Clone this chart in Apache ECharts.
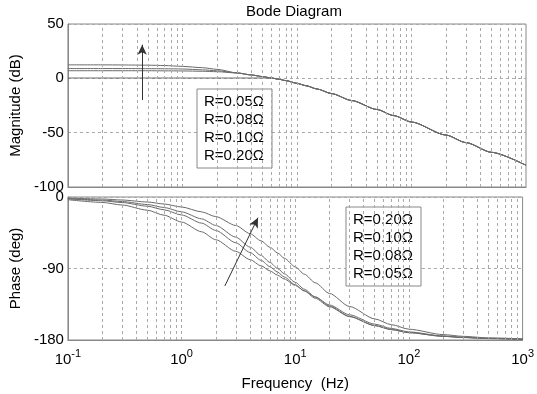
<!DOCTYPE html>
<html>
<head>
<meta charset="utf-8">
<script src="https://cdn.jsdelivr.net/npm/echarts@6/dist/echarts.min.js"></script>
<style>html,body{margin:0;padding:0;background:#fff}#c{width:537px;height:394px}</style>
</head>
<body>
<div id="c"></div>
<script>
// Frequencies (Hz)
const freq = [0.1, 0.2, 0.3, 0.5, 0.7, 1, 1.5, 2, 3, 4, 5, 6, 7, 8, 10, 12, 15, 20, 30, 50, 70, 100, 200, 300, 500, 1000];

// Magnitude (dB)
const magR005 = [12.4, 12.4, 12.3, 12.1, 11.8, 11.0, 9.8, 8.3, 5.0, 3.1, 1.6, 0.3, -0.9, -2.1, -4.6, -6.8, -9.8, -14.0, -20.4, -28.7, -34.3, -40.2, -52.2, -59.2, -68.1, -80.0];
const magR008 = [9.0, 9.0, 9.0, 8.9, 8.8, 8.6, 7.8, 7.0, 5.0, 3.1, 1.6, 0.3, -0.9, -2.1, -4.6, -6.8, -9.8, -14.0, -20.4, -28.7, -34.3, -40.2, -52.2, -59.2, -68.1, -80.0];
const magR010 = [7.0, 7.0, 7.0, 7.0, 6.9, 6.8, 6.5, 6.1, 4.9, 3.1, 1.6, 0.3, -0.9, -2.1, -4.6, -6.8, -9.8, -14.0, -20.4, -28.7, -34.3, -40.2, -52.2, -59.2, -68.1, -80.0];
const magR020 = [0.3, 0.3, 0.3, 0.3, 0.3, 0.3, 0.3, 0.3, 0.3, 0.3, 0.3, 0.2, -0.9, -2.1, -4.6, -6.8, -9.8, -14.0, -20.4, -28.7, -34.3, -40.2, -52.2, -59.2, -68.1, -80.0];

// Phase (deg)
const phR020 = [-1.3, -2.5, -3.8, -6.3, -8.8, -12.6, -18.7, -24.7, -35.9, -46.1, -55.2, -63.3, -70.5, -77.0, -88.0, -97.1, -108.0, -121.4, -137.8, -153.4, -160.7, -166.4, -173.2, -175.4, -177.3, -178.6];
const phR010 = [-1.9, -3.8, -5.7, -9.5, -13.2, -18.7, -27.5, -35.8, -50.6, -63.1, -73.5, -82.4, -90.0, -96.6, -107.4, -116.0, -125.8, -137.2, -150.2, -161.7, -166.8, -170.7, -175.3, -176.9, -178.1, -179.1];
const phR008 = [-2.3, -4.7, -7.0, -11.6, -16.1, -22.6, -32.9, -42.1, -57.6, -69.8, -79.7, -87.8, -94.7, -100.7, -110.5, -118.3, -127.5, -138.2, -150.6, -161.9, -166.9, -170.8, -175.4, -176.9, -178.2, -179.1];
const phR005 = [-3.4, -6.8, -10.1, -16.6, -22.9, -31.5, -43.8, -53.8, -68.4, -78.8, -86.6, -93.1, -98.5, -103.2, -111.3, -117.9, -125.9, -135.9, -148.3, -160.0, -165.5, -169.8, -174.9, -176.6, -177.9, -179.0];

const magNames = ['R=0.05Ω', 'R=0.08Ω', 'R=0.10Ω', 'R=0.20Ω'];
const phNames = ['R=0.20Ω', 'R=0.10Ω', 'R=0.08Ω', 'R=0.05Ω'];
const magTicks = [-100, -50, 0, 50];
const phTicks = [-180, -90, 0];
const decades = [0.1, 1, 10, 100];

const FONT = 'Liberation Sans, Arial, sans-serif';
const GRID_COLOR = '#a8a8a8';
const CURVE_COLOR = '#6a6a6a';

function pairs(arr) { return freq.map((f, i) => [f, arr[i]]); }

// minor + major vertical grid positions (2..9 x decade, plus interior decades)
const vGrid = [];
decades.forEach((d, k) => {
  for (let m = 2; m <= 9; m++) vGrid.push(d * m);
  if (k > 0) vGrid.push(d);
});

function gridMark() {
  return {
    silent: true, symbol: ['none', 'none'], label: { show: false },
    lineStyle: { color: GRID_COLOR, type: [3, 3], width: 1 },
    emphasis: { disabled: true },
    data: vGrid.map(v => ({ xAxis: v }))
  };
}

function lineSeries(name, arr, gi) {
  return {
    name: name, type: 'line', xAxisIndex: gi, yAxisIndex: gi,
    data: pairs(arr), showSymbol: false, smooth: 0.25, smoothMonotone: 'x',
    lineStyle: { color: CURVE_COLOR, width: 1 }, itemStyle: { color: CURVE_COLOR },
    z: 3
  };
}

const series = [];
// grid lines holders
series.push({ type: 'line', xAxisIndex: 0, yAxisIndex: 0, data: [[0.1, null]], markLine: gridMark(), z: 1 });
series.push({ type: 'line', xAxisIndex: 1, yAxisIndex: 1, data: [[0.1, null]], markLine: gridMark(), z: 1 });

series.push(lineSeries(magNames[0], magR005, 0));
series.push(lineSeries(magNames[1], magR008, 0));
series.push(lineSeries(magNames[2], magR010, 0));
series.push(lineSeries(magNames[3], magR020, 0));
series.push(lineSeries(phNames[0], phR020, 1));
series.push(lineSeries(phNames[1], phR010, 1));
series.push(lineSeries(phNames[2], phR008, 1));
series.push(lineSeries(phNames[3], phR005, 1));

// arrows
series.push({
  type: 'line', xAxisIndex: 0, yAxisIndex: 0, data: [[0.1, null]], z: 4,
  markLine: {
    silent: true, symbol: ['none', 'arrow'], symbolSize: [7, 10], label: { show: false },
    lineStyle: { color: '#333', type: 'solid', width: 1 },
    data: [[{ coord: [0.445, -20] }, { coord: [0.445, 31] }]]
  }
});
series.push({
  type: 'line', xAxisIndex: 1, yAxisIndex: 1, data: [[0.1, null]], z: 4,
  markLine: {
    silent: true, symbol: ['none', 'arrow'], symbolSize: [7, 10], label: { show: false },
    lineStyle: { color: '#333', type: 'solid', width: 1, curveness: 0.05 },
    data: [[{ coord: [2.4, -112] }, { coord: [4.7, -26] }]]
  }
});

function xAxisCfg(gi, showLabels) {
  return {
    type: 'log', logBase: 10, gridIndex: gi, min: 0.1, max: 1000,
    axisLine: { show: true, onZero: false, lineStyle: { color: '#888' } },
    axisTick: { show: false },
    splitLine: { show: false },
    axisLabel: {
      show: showLabels, margin: 8, color: '#000',
      formatter: v => '{b|10}{s|' + Math.round(Math.log10(v)) + '}',
      rich: {
        b: { fontFamily: FONT, fontSize: 15, color: '#000', lineHeight: 15, padding: [8, 0, 0, 0] },
        s: { fontFamily: FONT, fontSize: 11, color: '#000', lineHeight: 11, verticalAlign: 'top' }
      }
    },
    name: showLabels ? 'Frequency  (Hz)' : '',
    nameLocation: 'middle', nameGap: 36,
    nameTextStyle: { fontFamily: FONT, fontSize: 15, color: '#000' }
  };
}

function yAxisCfg(gi, min, max, interval, name) {
  return {
    type: 'value', gridIndex: gi, min: min, max: max, interval: interval,
    axisLine: { show: true, onZero: false, lineStyle: { color: '#888' } },
    axisTick: { show: false },
    splitLine: { show: true, lineStyle: { color: GRID_COLOR, type: [3, 3] } },
    axisLabel: { margin: 4, color: '#000', fontFamily: FONT, fontSize: 15 },
    name: name, nameLocation: 'middle', nameGap: 38,
    nameTextStyle: { fontFamily: FONT, fontSize: 15, color: '#000' }
  };
}

const legendBase = {
  orient: 'vertical', itemWidth: 0, itemHeight: 0, itemGap: 3,
  padding: [5, 8, 5, 1], borderColor: '#888', borderWidth: 1, backgroundColor: '#fff',
  selectedMode: false,
  textStyle: { fontFamily: FONT, fontSize: 15, color: '#000' }
};

const option = {
  animation: false,
  backgroundColor: '#fff',
  title: {
    text: 'Bode Diagram', left: 246, top: 4, padding: 0,
    textStyle: { fontFamily: FONT, fontSize: 15, fontWeight: 'normal', color: '#000' }
  },
  legend: [
    Object.assign({}, legendBase, { left: 197, top: 89, data: magNames }),
    Object.assign({}, legendBase, { left: 346, top: 207, data: phNames })
  ],
  grid: [
    { left: 63, top: 24, width: 463, height: 163, show: true, borderColor: '#888', borderWidth: 1, backgroundColor: 'transparent' },
    { left: 63, top: 197, width: 463, height: 143, show: true, borderColor: '#888', borderWidth: 1, backgroundColor: 'transparent' }
  ],
  xAxis: [xAxisCfg(0, false), xAxisCfg(1, true)],
  yAxis: [
    yAxisCfg(0, magTicks[0], magTicks[magTicks.length - 1], 50, 'Magnitude (dB)'),
    yAxisCfg(1, phTicks[0], phTicks[phTicks.length - 1], 90, 'Phase (deg)')
  ],
  series: series
};

const chart = echarts.init(document.getElementById('c'), null, { renderer: 'canvas' });
chart.setOption(option);
</script>
</body>
</html>
